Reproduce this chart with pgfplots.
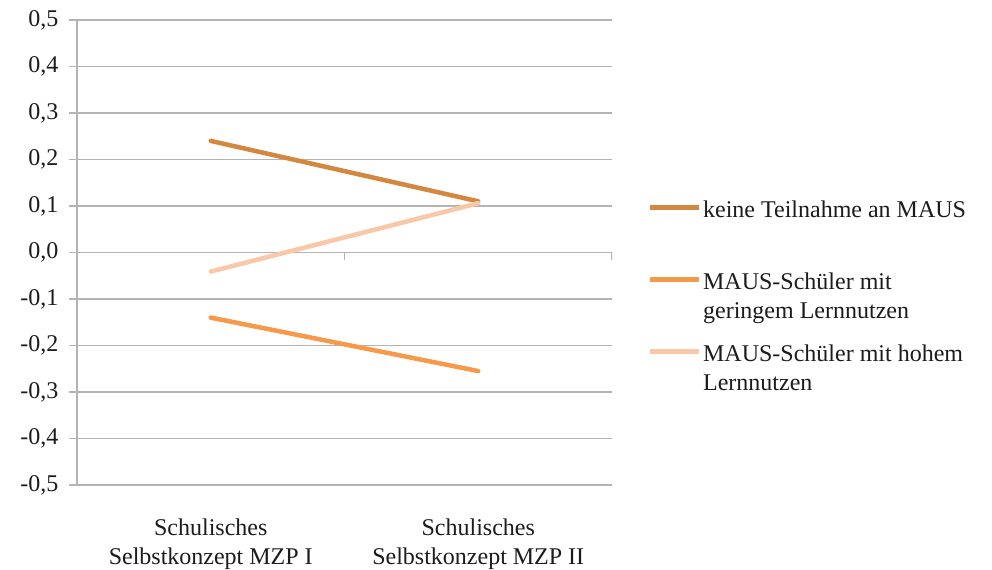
\documentclass[border=0pt]{standalone}
\usepackage{pgfplots}
\pgfplotsset{compat=1.18}
\usepackage{fontspec}
\setmainfont{Liberation Serif}
\definecolor{keine}{HTML}{D4873F}
\definecolor{gering}{HTML}{F7994A}
\definecolor{hoch}{HTML}{F9C8A8}
\definecolor{gridgray}{HTML}{B4B4B4}
\definecolor{txt}{HTML}{1C1C1C}
\begin{document}
\begin{tikzpicture}
\useasboundingbox (-57.75pt,-63.75pt) rectangle (686.25pt,363.75pt);
\begin{axis}[
  scale only axis,
  width=401.25pt, height=348.75pt,
  xmin=-0.5, xmax=1.5, ymin=-0.5, ymax=0.5,
  axis x line*=bottom, axis y line*=left,
  x axis line style={gridgray, line width=1.1pt, -},
  y axis line style={gridgray, line width=1.1pt, -},
  xtick={0,1},
  xticklabels={{Schulisches\\Selbstkonzept MZP I},{Schulisches\\Selbstkonzept MZP II}},
  xtick style={draw=none},
  xticklabel style={align=center, font=\fontsize{18}{21.75}\selectfont, text=txt, anchor=north, yshift=-16pt},
  ytick={-0.5,-0.4,-0.3,-0.2,-0.1,0,0.1,0.2,0.3,0.4,0.5},
  ytick style={gridgray, line width=1.1pt},
  tick align=outside, major tick length=6pt,
  yticklabel style={font=\fontsize{18}{21.75}\selectfont, text=txt, anchor=east, xshift=-4.5pt},
  /pgf/number format/.cd, fixed, fixed zerofill, precision=1, use comma, assume math mode=true,
  /pgfplots/.cd,
  ymajorgrids, major grid style={gridgray, line width=1.1pt},
  legend style={draw=none, fill=none, inner sep=0pt,
    at={(axis description cs:1.0654,0.6108)}, anchor=north west,
    font=\fontsize{18}{21.75}\selectfont, text=txt,
    column sep=1.5pt, row sep=12pt,
    nodes={align=left, inner sep=0pt, text height=33.75pt, text depth=8.25pt, anchor=base west}},
  legend cell align=left,
  % every entry has two lines; the sample sits beside the first one
  legend image code/.code={\draw[#1, line width=3.4pt, line cap=butt] (0pt,29pt) -- (37pt,29pt);},
]
\addplot[keine, line width=3.4pt, line cap=round] coordinates {(0,0.24) (1,0.11)};
\addlegendentry{keine Teilnahme an MAUS\\ }
\addplot[gering, line width=3.4pt, line cap=round] coordinates {(0,-0.14) (1,-0.255)};
\addlegendentry{MAUS-Schüler mit\\geringem Lernnutzen}
\addplot[hoch, line width=3.4pt, line cap=round] coordinates {(0,-0.041) (1,0.106)};
\addlegendentry{MAUS-Schüler mit hohem\\Lernnutzen}
% small tick marks along the zero line at the category boundaries
\draw[gridgray, line width=1.1pt] (axis cs:0.5,0) -- ++(0pt,-6pt);
\draw[gridgray, line width=1.1pt] (axis cs:1.5,0) -- ++(0pt,-6pt);
\end{axis}
\end{tikzpicture}
\end{document}
